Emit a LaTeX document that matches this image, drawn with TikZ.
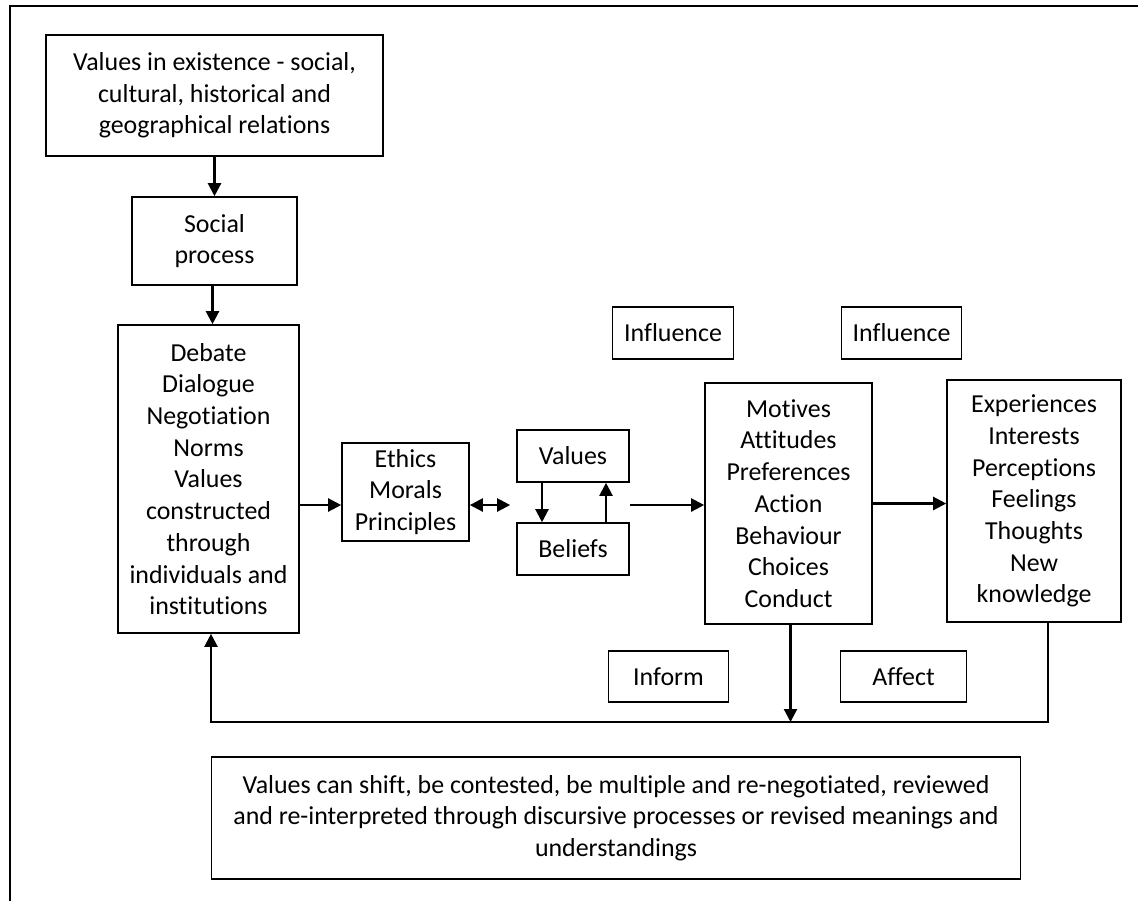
\documentclass[tikz,border=0pt]{standalone}
\usepackage{fontspec}
\setmainfont{Carlito}[Ligatures=NoCommon]
\usetikzlibrary{positioning}
\usetikzlibrary{arrows.meta}

\begin{document}
\begin{tikzpicture}[x=0.5pt,y=-0.5pt,on grid,
    box/.style={draw,line width=0.8pt,align=center,inner sep=0pt,font=\fontsize{12.95}{15.85}\selectfont},
    arr/.style={-{Triangle[length=6.5pt,width=6.5pt]},line width=1.1pt},
    darr/.style={{Triangle[length=6.5pt,width=6.5pt]}-{Triangle[length=6.5pt,width=6.5pt]},line width=1.1pt}]
   \useasboundingbox (0,0) rectangle (1138,901);
   \draw[line width=1pt] (10,901) -- (10,6) -- (1138,6);
   \node[box,minimum width=168.5pt,minimum height=60.5pt] (exist) at (214.5,95.5)
      {Values in existence - social,\\cultural, historical and\\geographical relations};
   \node[box,minimum width=82.5pt,minimum height=44pt] (social) [below=72.75pt of exist] {Social\\process};
   \node[box,minimum width=90.5pt,minimum height=154pt] (debate) [below=119pt of social,xshift=-3pt]
      {Debate\\Dialogue\\Negotiation\\Norms\\Values\\constructed\\through\\individuals and\\institutions};
   \node[box,minimum width=63.5pt,minimum height=49pt] (ethics) [right=98.5pt of debate,yshift=-6.5pt]
      {Ethics\\Morals\\Principles};
   \node[box,minimum width=56pt,minimum height=26pt] (values) [right=83.75pt of ethics,yshift=18pt] {Values};
   \node[box,minimum width=56pt,minimum height=26pt] (beliefs) [below=46.5pt of values] {Beliefs};
   \node[box,minimum width=83.5pt,minimum height=120.5pt] (motives) [right=107.75pt of values,yshift=-23.75pt]
      {Motives\\Attitudes\\Preferences\\Action\\Behaviour\\Choices\\Conduct};
   \node[box,minimum width=87pt,minimum height=121pt] (exper) [right=122.75pt of motives,yshift=1.25pt]
      {Experiences\\Interests\\Perceptions\\Feelings\\Thoughts\\New\\knowledge};
   \node[box,minimum width=60.5pt,minimum height=26pt] (infl_a) [above left=85.25pt and 57.75pt of motives] {Influence};
   \node[box,minimum width=60pt,minimum height=26pt] (infl_b) [right=114.25pt of infl_a] {Influence};
   \node[box,minimum width=60pt,minimum height=25.5pt] (inform) [below left=86.5pt and 60pt of motives] {Inform};
   \node[box,minimum width=63pt,minimum height=25.5pt] (affect) [right=117.5pt of inform] {Affect};
   \node[box,minimum width=404.5pt,minimum height=61pt] (shift) [below=157.25pt of motives,xshift=-86.25pt]
      {Values can shift, be contested, be multiple and re-negotiated, reviewed\\
       and re-interpreted through discursive processes or revised meanings and\\
       understandings};
   % arrow heights
   \coordinate (ax) at (0,505);
   \coordinate (fb) at (0,722);
   \coordinate (vb) at ([xshift=-3pt]values.west |- ax);
   \draw[arr] (exist) -- (social);
   \draw[arr] ([xshift=-1pt]social.south) -- ([xshift=-1pt]social.south |- debate.north);
   \draw[arr] (debate.east |- ax) -- (ethics.west |- ax);
   \draw[darr] (ethics.east |- ax) -- (vb);
   \draw[arr] ([xshift=-15.5pt]values.south) -- ([xshift=-15.5pt]beliefs.north);
   \draw[arr] ([xshift=16.5pt]beliefs.north) -- ([xshift=16.5pt]values.south);
   \draw[arr] (values.east |- ax) -- (motives.west |- ax);
   \draw[arr] (motives.east) -- (motives.east -| exper.west);
   \draw[arr] ([xshift=1pt]motives.south) -- ([xshift=1pt]motives.south |- fb);
   \draw[arr] ([xshift=7pt]exper.south) |- ([xshift=1.25pt]debate.south |- fb) -- ([xshift=1.25pt]debate.south);
\end{tikzpicture}
\end{document}
